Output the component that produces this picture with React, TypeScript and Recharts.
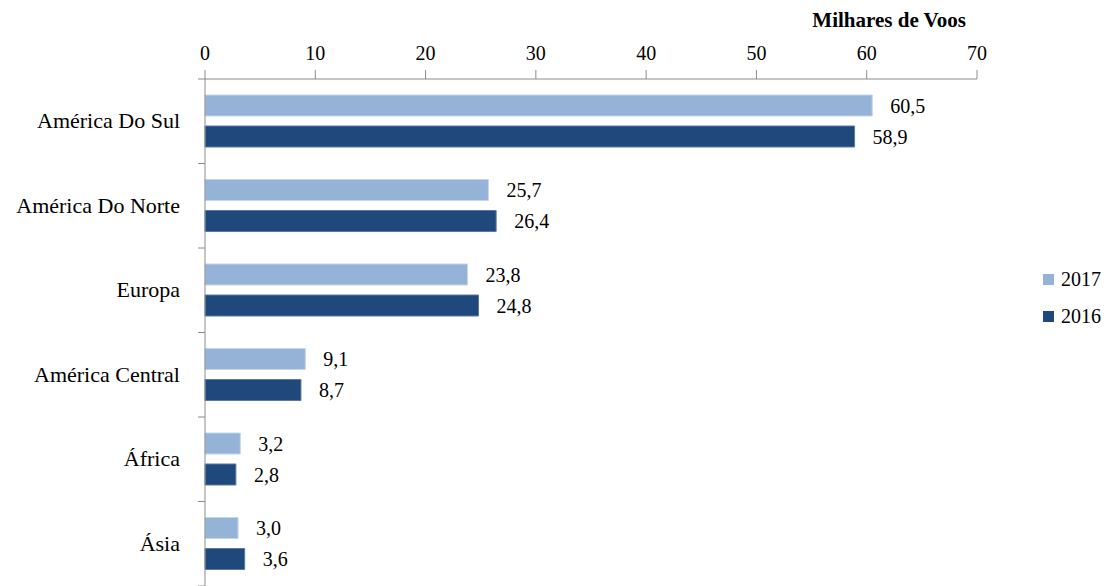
import React from 'react';
import { BarChart, Bar, XAxis, YAxis, LabelList } from 'recharts';

const regions = ['América Do Sul', 'América Do Norte', 'Europa', 'América Central', 'África', 'Ásia'];
const voos2017 = [60.5, 25.7, 23.8, 9.1, 3.2, 3.0];
const voos2016 = [58.9, 26.4, 24.8, 8.7, 2.8, 3.6];
const xTicks = [0, 10, 20, 30, 40, 50, 60, 70];

const W = 1115;
const H = 586;
const TOP = 79;
const LEFT = 205;
const RIGHT = 138;
const FONT = "'Liberation Serif', 'Times New Roman', Tinos, 'DejaVu Serif', serif";
const LIGHT = '#95b3d7';
const DARK = '#1f497d';
const AXIS = '#8c8c8c';

const data = regions.map((r, i) => ({ region: r, v2017: voos2017[i], v2016: voos2016[i] }));

const band = (H - TOP) / regions.length;

const fmt = (v: any) => Number(v).toFixed(1).replace('.', ',');

// categoria centrada na faixa, com os tracinhos nos limites das faixas
function RegionTick(props: any) {
  const { x, y, payload, index } = props;
  const ax = x + 8;
  return (
    <g>
      <text x={ax - 25} y={y} dy={7} textAnchor="end" fontFamily={FONT} fontSize={22} fill="#000">
        {payload.value}
      </text>
      {index === 0 && <line x1={ax - 7} x2={ax} y1={y - band / 2} y2={y - band / 2} stroke={AXIS} />}
      <line x1={ax - 7} x2={ax} y1={y + band / 2} y2={y + band / 2} stroke={AXIS} />
    </g>
  );
}

function LegendBox() {
  const items = [
    { label: '2017', color: LIGHT },
    { label: '2016', color: DARK },
  ];
  return (
    <div style={{ position: 'absolute', left: 1043, top: 261, fontFamily: FONT, fontSize: 20, color: '#000' }}>
      {items.map((it) => (
        <div key={it.label} style={{ display: 'flex', alignItems: 'center', height: 37 }}>
          <span style={{ width: 11, height: 11, background: it.color, marginRight: 7, display: 'inline-block' }} />
          <span>{it.label}</span>
        </div>
      ))}
    </div>
  );
}

export default function App() {
  return (
    <div style={{ position: 'absolute', left: 0, top: 0, width: W, height: H, background: '#fff' }}>
      <div
        style={{
          position: 'absolute',
          right: W - 966,
          top: 7,
          fontFamily: FONT,
          fontSize: 21,
          fontWeight: 'bold',
          lineHeight: '26px',
        }}
      >
        Milhares de Voos
      </div>
      <LegendBox />
      <BarChart
        width={W}
        height={H}
        data={data}
        layout="vertical"
        margin={{ top: 0, right: RIGHT, bottom: 0, left: 0 }}
        barCategoryGap="19%"
        barGap={10}
      >
        <XAxis
          type="number"
          orientation="top"
          domain={[0, 70]}
          ticks={xTicks}
          height={TOP}
          tickSize={9}
          tickMargin={10}
          stroke={AXIS}
          tick={{ fontFamily: FONT, fontSize: 20, fill: '#000' }}
        />
        <YAxis
          type="category"
          dataKey="region"
          width={LEFT}
          tickLine={false}
          stroke={AXIS}
          tick={<RegionTick />}
          interval={0}
        />
        <Bar dataKey="v2017" name="2017" fill={LIGHT} stroke="#c5d6ea" strokeWidth={1} barSize={21} isAnimationActive={false}>
          <LabelList dataKey="v2017" position="right" offset={18} formatter={fmt} fontFamily={FONT} fontSize={20} fill="#000" />
        </Bar>
        <Bar dataKey="v2016" name="2016" fill={DARK} stroke="#5a7aa3" strokeWidth={1} barSize={21} isAnimationActive={false}>
          <LabelList dataKey="v2016" position="right" offset={18} formatter={fmt} fontFamily={FONT} fontSize={20} fill="#000" />
        </Bar>
      </BarChart>
    </div>
  );
}
